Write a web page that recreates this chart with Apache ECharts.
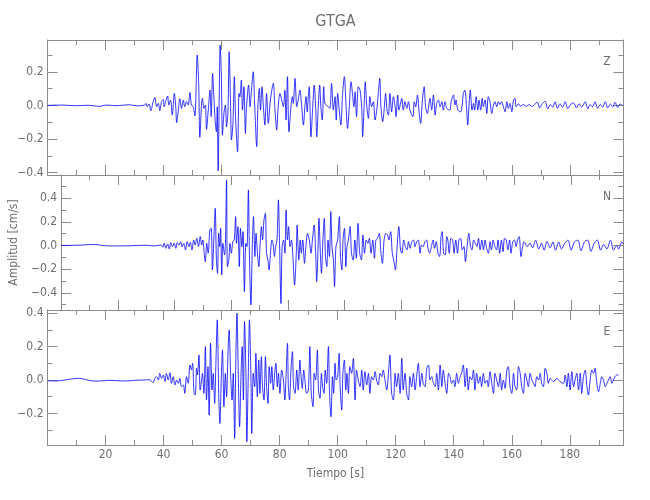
<!DOCTYPE html>
<html><head><meta charset="utf-8">
<script src="https://cdn.jsdelivr.net/npm/echarts@6/dist/echarts.min.js"></script>
<style>html,body{margin:0;padding:0;background:#fff}#c{width:650px;height:500px}</style>
</head><body><div id="c"></div>
<script>
const chartTitle = 'GTGA';
const componentNames = ['Z', 'N', 'E'];
const xAxisTitle = 'Tiempo [s]';
const yAxisTitle = 'Amplitud [cm/s]';
const timeMax = 198.5;
const xMajorStep = 20;
const xMinorStep = 10;
const yMajorStep = 0.2;
const yMinorStep = 0.1;
const yRanges = [[-0.414, 0.389], [-0.545, 0.595], [-0.389, 0.419]];

// [time (s), amplitude (cm/s)], extremum by extremum
const traceZ = [
[0,0],[5,0.002],[10,-0.002],[14,0.001],[18,-0.006],[20,0.002],[24,-0.002],[28,0.004],[31,-0.003],[33.5,0.002],
[33.9,0.012],[34.4,-0.008],[35.0,0.008],[35.6,-0.032],[36.4,0.022],[37.0,0.048],[37.6,-0.008],[38.2,0.012],[38.7,-0.032],[39.3,0.022],[39.9,0.036],[40.2,-0.008],[40.8,0.028],[41.4,0.056],[41.8,0.002],[42.4,0.032],[43.0,-0.058],[43.7,0.071],[44.2,-0.008],[44.5,-0.103],[45.1,-0.028],[45.6,0.040],[46.2,-0.018],[46.8,0.032],[47.3,-0.008],[47.9,0.022],[48.5,0.002],[49.1,0.077],[49.6,0.002],[50.2,-0.008],[50.8,-0.063],[51.6,0.30],[52.1,0.131],[52.5,-0.19],[53.1,0.012],[53.4,0.042],[53.9,-0.018],[54.4,0.002],[54.8,-0.143],[55.4,-0.028],[56.0,0.091],[56.4,-0.067],[56.9,0.19],[57.3,0.062],[57.8,-0.097],[58.2,-0.157],[58.5,-0.008],[58.8,-0.389],[59.2,0.071],[59.5,0.359],[59.9,0.19],[60.3,-0.177],[60.8,-0.048],[61.3,0.002],[61.7,-0.127],[62.2,-0.028],[62.6,0.319],[63.1,-0.008],[63.4,-0.206],[63.9,-0.107],[64.4,0.171],[64.8,-0.067],[65.5,-0.276],[66.0,0.071],[66.3,0.05],[66.8,0.151],[67.2,-0.028],[67.7,0.111],[68.2,-0.167],[68.6,-0.008],[69.3,0.121],[69.8,-0.008],[70.3,0.091],[70.9,0.20],[71.4,0.002],[72.1,-0.246],[72.5,-0.008],[73.0,0.101],[73.4,-0.028],[73.9,0.111],[74.4,-0.008],[74.9,-0.117],[75.5,0.071],[76.1,-0.107],[76.7,0.012],[77.2,0.081],[77.8,0.131],[78.4,-0.028],[79.0,-0.147],[79.5,-0.008],[80.1,0.071],[80.7,0.032],[81.3,-0.008],[81.8,0.09],[82.2,-0.087],[82.7,0.171],[83.2,-0.157],
[83.9,-0.008],[84.4,0.052],[84.7,0.012],[85.3,0.161],[85.9,-0.008],[86.4,0.032],[87.0,0.091],[87.6,-0.008],[88.2,-0.117],[88.7,-0.008],[89.1,0.052],[89.5,-0.038],[89.9,0.062],[90.2,0.111],[90.8,-0.187],[91.4,-0.008],[91.9,0.121],[92.4,-0.008],[92.8,-0.187],[93.3,-0.008],[93.8,0.121],[94.2,-0.008],[94.7,-0.087],[95.2,0.111],[95.6,0.012],[96.8,-0.008],[97.3,-0.018],[97.9,0.131],[98.5,-0.028],[99.1,0.052],[99.5,-0.087],[100.0,0.071],[100.6,-0.038],[101.1,-0.117],[101.7,0.071],[102.3,0.171],[102.9,-0.008],[103.4,-0.137],[104.0,-0.008],[104.6,0.141],[105.2,0.052],[105.6,-0.008],[106.0,0.081],[106.5,-0.067],[107.1,0.111],[107.7,0.091],[108.3,-0.018],[108.6,-0.187],[109.1,-0.008],[109.5,0.141],[110.0,0.002],[110.6,-0.077],[111.1,0.052],[111.7,-0.008],[112.3,0.022],[112.9,-0.087],[113.4,-0.038],[114.0,0.071],[114.5,0.161],[114.9,-0.008],[115.5,-0.097],[116.1,-0.008],[116.5,0.071],[117.0,-0.028],[117.5,-0.058],[118.0,0.071],[118.6,-0.038],[119.2,0.052],[119.8,-0.008],[120.1,-0.067],[120.7,0.062],[121.1,-0.028],[122.1,0.042],[122.6,-0.028],[123.2,0.022],[123.8,-0.018],[124.4,0.022],[124.9,-0.028],[125.9,-0.067],[126.4,0.022],[126.9,-0.008],[127.5,0.062],[128.0,-0.028],[128.6,-0.107],[129.2,0.032],[129.8,0.111],[130.3,-0.008],[130.9,-0.048],
[131.8,0.042],[132.4,-0.028],[133.0,0.062],[133.6,-0.058],[134.1,0.012],[134.7,0.032],[135.3,-0.008],[135.9,0.022],[136.4,-0.028],[137.0,0.022],[137.6,-0.018],[138.7,-0.028],[139.1,0.022],[139.9,0.062],[140.4,0.002],[140.8,0.032],[141.4,-0.028],[142.4,-0.038],[142.9,0.002],[143.3,0.071],[143.8,0.091],[144.4,-0.008],[144.8,-0.117],[145.3,0.012],[145.7,0.091],[146.3,-0.028],[146.8,0.012],[147.2,-0.028],[147.7,0.052],[148.3,-0.028],[148.7,0.032],[149.3,-0.028],[149.8,0.042],[150.2,-0.008],[150.8,0.032],[151.4,-0.048],[151.9,0.052],[152.5,0.022],[153.1,-0.048],[153.7,0.002],[154.2,0.022],[154.8,-0.008],[155.4,0.022],[155.9,0.005],[156.5,0.022],[157.1,-0.008],[157.7,-0.038],[158.3,0.022],[158.8,-0.018],[159.4,0.012],[160.0,-0.038],[160.6,0.032],[161.1,0.042],[161.5,-0.008],
[162.3,0.01],[163.0,-0.005],[164.0,0.005],[165.0,-0.005],[166.0,0.004],[167.0,-0.006],[168.0,0.008],[168.8,0.02],[169.6,-0.015],[170.5,0.01],[171.5,0.025],[172.4,-0.02],[173.3,0.005],[174.1,-0.01],[174.9,0.022],[175.8,-0.018],[176.6,0.01],[177.5,-0.012],[178.4,0.022],[179.3,-0.02],[180.2,0.005],[181.3,0.015],[182.3,-0.015],[183.2,0.01],[184.1,-0.01],[185.3,0.022],[186.2,-0.02],[187.0,0.005],[187.8,-0.008],[188.7,0.022],[189.6,-0.018],[190.5,0.006],[191.3,-0.01],[192.2,0.022],[193.1,-0.015],[194.0,0.008],[194.8,-0.01],[195.6,0.018],[196.5,-0.012],[197.3,0.008],[198.2,0.0]
];

const traceN = [
[0,0],[6,0.002],[11,0.008],[13,0.006],[15,-0.002],[20,-0.004],[25,-0.002],[30,0.002],[33,-0.004],[35.3,0.004],
[35.9,-0.015],[36.4,0.018],[37.0,-0.024],[37.6,0.013],[38.2,-0.03],[38.7,0.024],[39.3,-0.01],[39.9,0.018],[40.5,-0.024],[41.0,0.024],[41.6,0.004],[42.2,0.032],[42.7,-0.01],[43.3,0.018],[43.9,-0.038],[44.5,0.032],[45.1,-0.01],[45.6,0.027],[46.2,-0.038],[46.8,0.046],[47.3,0.004],[47.9,0.061],[48.5,-0.01],[49.1,0.075],[49.6,0.004],[50.0,0.046],[50.5,-0.066],[50.9,-0.137],[51.4,0.018],[51.9,-0.066],[52.5,0.131],[53.0,0.145],[53.4,-0.207],[53.9,0.046],[54.4,0.314],[54.8,-0.108],[55.2,-0.235],[55.6,0.103],[56.0,-0.01],[56.3,0.145],[56.7,-0.249],[57.1,0.018],[57.7,-0.08],[58.0,0.018],[58.4,0.554],[58.7,-0.179],[59.2,-0.123],[59.6,0.018],[60.1,-0.066],[60.6,0.032],[61.1,0.046],[61.6,0.244],[61.9,0.018],[62.4,0.159],[62.9,-0.179],[63.3,0.145],[63.8,-0.01],[64.2,0.117],[64.7,-0.39],[65.2,0.018],[65.6,-0.01],[66.1,0.469],[66.5,-0.123],[67.0,-0.503],[67.5,0.018],[67.9,0.244],[68.4,-0.094],[68.8,0.103],[69.3,-0.066],[69.8,-0.179],[70.2,-0.01],[70.7,0.159],[71.1,0.046],[71.6,0.215],[72.1,0.272],[72.5,-0.066],[73.0,-0.123],[73.4,-0.207],[73.9,-0.066],[74.4,0.046],[74.8,0.018],[75.3,-0.094],[75.7,-0.01],[76.2,0.046],[76.7,0.385],[77.1,0.018],[77.6,-0.49],[78.0,-0.01],[78.5,0.046],[79.0,-0.066],[79.4,0.30],[79.9,0.046],[80.3,0.159],[80.8,-0.01],[81.3,0.046],[81.8,-0.094],[82.4,-0.334],
[83.0,-0.066],[83.3,0.173],[83.9,-0.123],[84.4,0.046],[84.8,-0.066],[85.3,0.046],[85.9,-0.151],[86.4,-0.01],[87.0,0.103],[87.6,0.046],[88.2,-0.066],[88.7,0.046],[89.3,0.173],[89.9,-0.094],[90.2,-0.306],[90.7,-0.01],[91.0,0.23],[91.5,-0.066],[91.9,-0.235],[92.4,0.046],[92.9,0.23],[93.3,-0.094],[93.8,-0.179],[94.2,0.046],[94.7,-0.094],[95.2,0.286],[95.6,-0.01],[96.1,-0.123],[96.5,-0.348],[97.0,-0.01],[97.6,0.046],[98.2,0.244],[98.6,-0.094],[99.1,-0.207],[99.5,0.046],[100.0,0.145],[100.5,-0.179],[100.9,-0.01],[101.4,0.046],[102.0,0.159],[102.5,-0.066],[103.1,-0.123],[103.7,0.046],[104.2,-0.108],[104.8,0.187],[105.4,-0.066],[106.0,-0.123],[106.5,0.089],[107.1,-0.066],[107.7,0.046],[108.3,0.018],[108.8,0.061],[109.4,-0.066],[110.0,0.046],[110.6,-0.108],[111.1,0.046],[111.7,0.061],[112.3,0.103],[112.9,-0.066],[113.4,-0.151],[114.0,0.046],[114.6,0.103],[115.2,0.089],[115.7,0.046],[116.3,0.117],[116.9,-0.066],[117.5,-0.137],[118.0,-0.207],[118.6,-0.01],[119.2,0.159],[119.8,-0.038],[120.3,-0.066],[120.9,0.046],[121.5,-0.01],[122.1,-0.038],[122.6,0.032],[123.2,-0.024],[123.8,0.032],[124.4,0.046],[124.9,-0.01],[125.5,0.032],[126.1,0.046],[126.7,-0.066],[127.2,0.004],[127.8,-0.01],[128.4,0.032],[129.0,0.046],[129.5,-0.024],[130.1,-0.066],[130.7,-0.01],[131.3,0.046],
[131.8,-0.024],[132.4,0.032],[133.0,-0.066],[133.6,-0.094],[134.1,0.075],[134.5,0.117],[135.0,-0.066],[135.6,-0.08],[136.1,0.075],[136.5,0.046],[137.0,-0.066],[137.6,0.061],[138.2,0.046],[138.7,-0.066],[139.3,0.046],[139.9,-0.066],[140.4,0.046],[141.0,0.061],[141.6,-0.038],[142.2,-0.01],[142.7,-0.137],[143.3,-0.01],[143.9,0.103],[144.5,-0.01],[145.0,-0.038],[145.6,0.046],[146.2,0.018],[146.8,-0.01],[147.3,0.061],[147.9,-0.038],[148.5,0.046],[149.1,-0.038],[149.6,0.046],[150.2,-0.024],[150.8,-0.066],[151.4,0.032],[151.9,-0.038],[152.5,0.046],[153.1,-0.01],[153.7,-0.038],[154.2,0.046],[154.8,-0.066],[155.4,0.046],[156.0,-0.052],[156.5,0.061],[157.1,0.046],[157.7,-0.038],[158.3,0.046],[158.8,-0.066],[159.4,0.032],[160.0,0.046],[160.6,-0.01],[161.1,0.046],[161.7,0.075],[162.3,-0.094],[162.9,-0.01],[163.4,0.032],
[164.5,-0.01],[165.5,0.02],[166.4,-0.02],[167.5,0.045],[168.6,-0.03],[169.6,0.02],[170.5,-0.04],[171.5,0.035],[172.6,-0.02],[173.6,0.03],[174.5,-0.04],[175.6,0.03],[176.6,-0.03],[177.8,0.02],[178.9,0.045],[180.0,-0.04],[181.2,0.03],[182.4,0.045],[183.5,-0.045],[184.7,0.03],[185.9,0.045],[187.0,-0.05],[188.2,0.02],[189.3,0.045],[190.4,-0.04],[191.5,0.01],[192.6,-0.03],[193.9,0.045],[195.0,-0.04],[196.0,0.0],[196.8,-0.03],[197.9,0.03],[198.5,0.01]
];

const traceE = [
[0,-0.004],[3,-0.006],[6,0.0],[9,0.008],[11,0.01],[13,0.004],[15,-0.005],[18,-0.006],[21,-0.002],[24,-0.004],[27,-0.006],[30,-0.002],[33,0.0],[35.3,0.002],
[35.9,-0.01],[36.4,-0.016],[37.0,0.01],[37.6,0.02],[38.2,0.0],[38.7,0.04],[39.3,0.01],[39.9,0.03],[40.5,-0.01],[41.0,0.04],[41.6,0.0],[42.2,0.044],[42.7,-0.02],[43.3,0.02],[43.9,-0.03],[44.5,0.0],[45.1,-0.02],[45.6,0.01],[46.2,-0.04],[46.8,-0.03],[47.3,-0.08],[47.9,0.02],[48.5,-0.02],[49.1,0.09],[49.6,0.06],[50.0,0.10],[50.5,-0.08],[50.9,-0.09],[51.4,0.07],[51.7,0.03],[52.2,0.15],[52.6,-0.06],[53.1,0.0],[53.4,0.04],[53.9,-0.08],[54.4,0.20],[54.8,-0.12],[55.3,0.08],[55.7,-0.21],[56.2,0.22],[56.7,-0.06],[57.1,0.04],[57.6,-0.14],[58.0,0.08],[58.5,0.36],[59.0,-0.08],[59.4,-0.26],[59.9,0.02],[60.3,0.18],[60.8,-0.16],[61.3,0.04],[61.7,-0.10],[62.2,0.16],[62.6,0.30],[63.1,0.04],[63.6,-0.12],[64.0,0.04],[64.5,-0.35],[64.9,0.12],[65.3,0.40],[65.7,0.08],[66.2,-0.28],[66.7,0.04],[67.1,0.20],[67.5,-0.12],[67.9,0.35],[68.4,0.02],[68.7,-0.37],[69.2,0.04],[69.6,0.36],[70.1,0.02],[70.4,-0.32],[70.9,0.04],[71.4,-0.04],[71.8,0.16],[72.3,-0.10],[72.8,0.12],[73.2,-0.08],[73.7,0.14],[74.1,-0.04],[74.6,-0.12],[75.1,0.14],[75.5,-0.04],[76.0,-0.14],[76.4,0.08],[76.9,-0.02],[77.3,0.08],[77.8,-0.06],[78.3,0.04],[78.7,0.10],[79.2,-0.04],[79.6,0.04],[80.1,-0.08],[80.7,0.06],[81.3,0.0],[81.8,-0.12],[82.2,0.02],[82.7,0.22],
[83.0,-0.04],[83.4,-0.12],[83.9,0.06],[84.4,0.17],[84.8,-0.04],[85.3,-0.08],[85.9,0.06],[86.4,-0.06],[87.0,0.12],[87.3,0.04],[87.8,-0.05],[88.3,0.06],[88.7,0.0],[89.3,-0.08],[89.9,-0.06],[90.4,0.20],[90.9,-0.08],[91.5,-0.16],[91.9,0.04],[92.4,0.0],[93.0,0.18],[93.4,-0.06],[93.9,-0.11],[94.4,0.04],[94.8,-0.04],[95.3,-0.08],[95.7,0.06],[96.2,-0.02],[96.8,0.20],[97.2,-0.08],[97.7,-0.22],[98.2,0.02],[98.6,-0.08],[99.1,0.10],[99.5,0.0],[100.0,0.02],[100.5,0.16],[100.9,-0.06],[101.4,-0.18],[101.8,0.04],[102.3,0.12],[102.8,-0.06],[103.2,0.04],[103.7,-0.08],[104.2,0.08],[104.8,0.04],[105.4,0.13],[106.0,-0.12],[106.5,0.06],[107.1,0.0],[107.7,-0.04],[108.3,0.06],[108.8,-0.06],[109.4,0.05],[110.0,-0.03],[110.6,0.04],[111.1,-0.08],[111.7,0.02],[112.3,0.0],[112.9,0.05],[113.4,0.0],[114.0,-0.03],[114.6,0.04],[115.2,0.02],[115.7,0.06],[116.3,0.0],[116.9,-0.06],[117.5,0.04],[118.0,0.15],[118.6,-0.08],[119.2,-0.12],[119.8,0.04],[120.3,-0.04],[120.9,0.04],[121.5,-0.08],[122.1,0.13],[122.6,-0.06],[123.2,0.04],[123.8,-0.08],[124.4,-0.12],[124.9,0.02],[125.5,-0.04],[126.1,0.04],[126.7,-0.06],[127.2,0.02],[127.8,0.10],[128.4,-0.04],[129.0,0.04],[129.5,-0.02],[130.1,-0.04],[130.7,0.07],[131.3,0.09],[131.8,0.0],[132.4,0.02],[133.0,-0.02],
[133.6,-0.04],[134.1,0.04],[134.7,-0.06],[135.3,0.09],[135.9,-0.04],[136.4,0.06],[137.0,-0.02],[137.6,-0.08],[138.2,0.04],[138.7,0.02],[139.3,-0.02],[139.9,0.0],[140.4,-0.04],[141.0,0.04],[141.6,-0.02],[142.2,0.02],[142.7,0.04],[143.3,0.09],[143.9,-0.04],[144.5,0.07],[145.0,-0.06],[145.6,0.02],[146.2,0.0],[146.8,0.06],[147.3,-0.06],[147.9,0.04],[148.5,-0.02],[149.1,0.02],[149.6,-0.04],[150.2,0.04],[150.8,-0.02],[151.4,0.0],[151.9,-0.04],[152.5,0.05],[153.1,-0.02],[153.7,-0.08],[154.2,0.04],[154.8,0.0],[155.4,-0.04],[156.0,0.04],[156.5,-0.06],[157.1,0.0],[157.7,-0.05],[158.3,0.06],[158.8,0.08],[159.4,-0.04],[160.0,-0.08],[160.6,0.04],[161.1,-0.04],[161.7,-0.06],[162.3,0.08],[162.9,0.04],[163.4,-0.04],[164.0,-0.08],[164.6,0.04],[165.2,0.0],[165.7,-0.04],[166.3,0.04],[166.9,0.0],[167.5,-0.02],[168.0,-0.04],[168.6,0.02],[169.2,0.0],[169.8,0.04],[170.3,-0.02],[170.9,-0.04],[171.5,0.07],[172.1,0.04],[172.6,-0.02],[173.2,0.01],[173.8,0.0],[174.4,-0.01],[175.5,0.01],[176.7,-0.01],[177.8,-0.02],[178.4,0.03],[179.0,-0.04],[179.5,0.04],[180.1,-0.06],[180.7,0.05],[181.3,-0.04],[181.8,0.0],[182.4,0.04],[183.0,-0.06],[183.6,0.04],[184.1,-0.08],[184.7,0.02],[185.3,0.06],[185.9,-0.04],[186.4,-0.09],[187.0,0.0],[187.6,0.06],[188.2,0.04],[188.7,0.07],[189.3,-0.02],[189.9,-0.07],[190.5,-0.02],[191.0,0.02],[191.6,0.0],[192.2,-0.04],[192.8,-0.02],[193.3,0.0],[193.9,0.02],[194.5,-0.02],[195.0,0.0],[195.6,0.02],[196.2,0.03],[196.8,0.03]
];

const traces = [traceZ, traceN, traceE];

const FONT = "'Liberation Sans Narrow','DejaVu Sans Condensed','DejaVu Sans',sans-serif";
const AXC = '#8c8c8c';
const TXC = '#6e6e6e';
const LEFT = 47.5, WIDTH = 576, TOPS = [40, 175, 310], HEIGHT = 135;

const isMultiple = (v, step) => Math.abs(v / step - Math.round(v / step)) < 1e-6;

const grids = TOPS.map(t => ({ left: LEFT, width: WIDTH, top: t, height: HEIGHT }));
const xAxes = [], yAxes = [];
for (let g = 0; g < 3; g++) {
  for (const pos of ['bottom', 'top']) {
    for (const minor of [false, true]) {
      const labelled = g === 2 && pos === 'bottom' && !minor;
      xAxes.push({
        gridIndex: g, type: 'value', position: pos, min: 0, max: timeMax,
        interval: minor ? xMinorStep : xMajorStep,
        axisLine: { show: !minor, onZero: false, lineStyle: { color: AXC, width: 1 } },
        axisTick: { show: true, inside: true, length: minor ? 5 : 10, lineStyle: { color: AXC, width: 1 } },
        axisLabel: {
          show: labelled, showMinLabel: true, showMaxLabel: true, color: TXC, fontSize: 12, fontFamily: FONT, margin: 4,
          formatter: v => (v > 0 && isMultiple(v, xMajorStep)) ? String(Math.round(v)) : ''
        },
        splitLine: { show: false },
        name: labelled ? xAxisTitle : '', nameLocation: 'middle', nameGap: 23,
        nameTextStyle: { color: TXC, fontSize: 12, fontFamily: FONT }
      });
    }
  }
  for (const pos of ['left', 'right']) {
    for (const minor of [false, true]) {
      const labelled = pos === 'left' && !minor;
      const step = minor ? yMinorStep : yMajorStep;
      yAxes.push({
        gridIndex: g, type: 'value', position: pos, min: yRanges[g][0], max: yRanges[g][1],
        minInterval: step, maxInterval: step, splitNumber: minor ? 8 : 4,
        axisLine: { show: !minor, onZero: false, lineStyle: { color: AXC, width: 1 } },
        axisTick: { show: true, inside: true, length: minor ? 5 : 10, lineStyle: { color: AXC, width: 1 } },
        axisLabel: {
          show: labelled, showMinLabel: true, showMaxLabel: true, color: TXC, fontSize: 12, fontFamily: FONT, margin: 4,
          formatter: v => isMultiple(v, yMajorStep) ? (v < -1e-9 ? '\u2212' + Math.abs(v).toFixed(1) : Math.abs(v).toFixed(1)) : ''
        },
        splitLine: { show: false },
        name: (labelled && g === 1) ? yAxisTitle : '', nameLocation: 'middle', nameRotate: 90, nameGap: 33,
        nameTextStyle: { color: TXC, fontSize: 12, fontFamily: FONT }
      });
    }
  }
}

const series = traces.map((d, i) => ({
  type: 'line', xAxisIndex: i * 4, yAxisIndex: i * 4, data: d,
  showSymbol: false, symbol: 'none', clip: true, smooth: 0.3,
  lineStyle: { color: '#0000ff', width: 0.8 }
}));

const graphics = [
  { type: 'text', x: LEFT + WIDTH / 2, y: 22,
    style: { text: chartTitle, fill: TXC, font: '16px ' + FONT, textAlign: 'center', textVerticalAlign: 'middle' } }
].concat(componentNames.map((n, i) => ({
  type: 'text', x: 607, y: TOPS[i] + 22,
  style: { text: n, fill: TXC, font: '12px ' + FONT, textAlign: 'center', textVerticalAlign: 'middle' }
})));

const chart = echarts.init(document.getElementById('c'), null, { renderer: 'canvas', width: 650, height: 500 });
chart.setOption({
  animation: false,
  backgroundColor: '#fff',
  grid: grids,
  xAxis: xAxes,
  yAxis: yAxes,
  series: series,
  graphic: graphics
});
</script>
</body></html>
